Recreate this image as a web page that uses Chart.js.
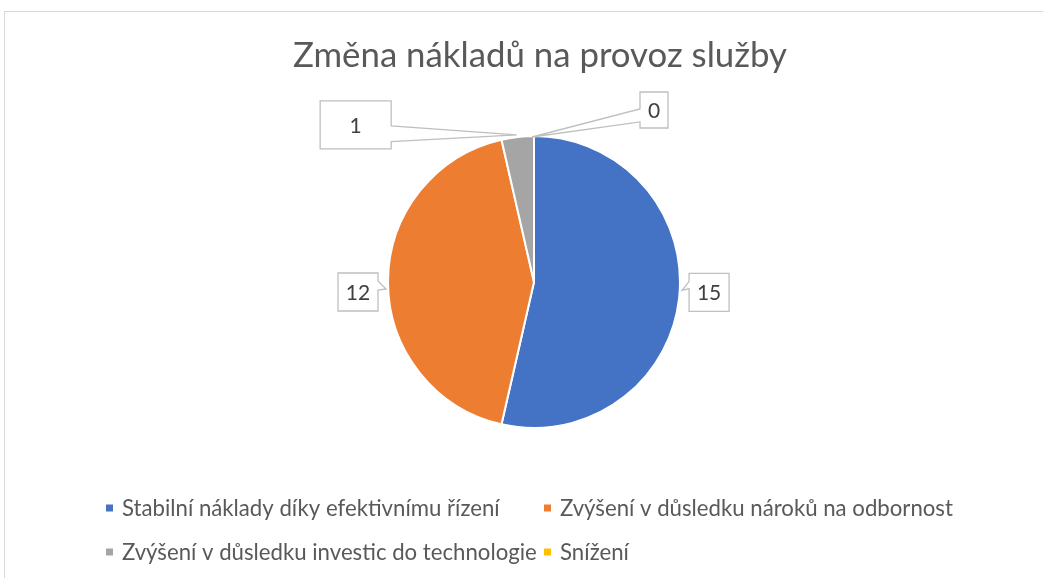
<!DOCTYPE html>
<html lang="cs">
<head>
<meta charset="utf-8">
<title>Změna nákladů na provoz služby</title>
<script src="https://cdn.jsdelivr.net/npm/chart.js@4.4.1/dist/chart.umd.min.js"></script>
<style>
    html, body { margin: 0; padding: 0; background: #fff; overflow: hidden; }
    #wrap { position: relative; width: 1043px; height: 578px; overflow: hidden; }
    #frame {
        position: absolute; left: 4px; top: 11px;
        width: 1100px; height: 700px;
        border: 1px solid #d9d9d9; box-sizing: border-box;
    }
    #pie { position: absolute; left: 0; top: 0; }
</style>
</head>
<body>
<div id="wrap">
    <div id="frame"></div>
    <canvas id="pie" width="1043" height="578"></canvas>
</div>
<script>
// Data
const chartTitle = 'Změna nákladů na provoz služby';
const categories = [
    'Stabilní náklady díky efektivnímu řízení',
    'Zvýšení v důsledku nároků na odbornost',
    'Zvýšení v důsledku investic do technologie',
    'Snížení'
];
const counts = [15, 12, 1, 0];
const sliceColors = ['#4472C4', '#ED7D31', '#A5A5A5', '#FFC000'];

const FONT = 'Lato, "Open Sans", sans-serif';

// velikost písma podle šířky textu v referenci
function fitFont(ctx, text, targetWidth) {
    ctx.font = `100px ${FONT}`;
    return 100 * targetWidth / ctx.measureText(text).width;
}

const canvas = document.getElementById('pie');
const ctx0 = canvas.getContext('2d');
const titleSize = fitFont(ctx0, chartTitle, 494);
const legendSize = fitFont(ctx0, categories[0], 378);

// Titulek a legenda kreslené ručně (Excel rozvržení)
const decorPlugin = {
    id: 'decor',
    afterDraw(chart, args, opts) {
        const ctx = chart.ctx;
        ctx.save();
        ctx.fillStyle = '#595959';
        ctx.textAlign = 'center';
        ctx.textBaseline = 'alphabetic';
        ctx.font = `${titleSize}px ${FONT}`;
        ctx.fillText(chartTitle, opts.titleX, opts.titleY);

        ctx.textAlign = 'left';
        ctx.textBaseline = 'middle';
        ctx.font = `${legendSize}px ${FONT}`;
        categories.forEach((name, i) => {
            const col = i % 2, row = Math.floor(i / 2);
            const bx = opts.colX[col], by = opts.rowY[row];
            ctx.fillStyle = sliceColors[i];
            ctx.fillRect(bx, by - opts.box / 2, opts.box, opts.box);
            ctx.fillStyle = '#595959';
            ctx.fillText(name, bx + 16, by + 1);
        });
        ctx.restore();
    }
};

// Popisky hodnot jako bubliny s výběžkem
const calloutPlugin = {
    id: 'callouts',
    afterDatasetsDraw(chart, args, opts) {
        const ctx = chart.ctx;
        const meta = chart.getDatasetMeta(0);
        ctx.save();
        meta.data.forEach((arc, i) => {
            const lay = opts.layout[i];
            const p = arc.getProps(['x', 'y', 'startAngle', 'endAngle', 'outerRadius'], true);
            const mid = (p.startAngle + p.endAngle) / 2;
            const ax = p.x + Math.cos(mid) * p.outerRadius;
            const ay = p.y + Math.sin(mid) * p.outerRadius;
            const tx = ax + lay.tip[0], ty = ay + lay.tip[1];
            const cx = ax + lay.dx, cy = ay + lay.dy;
            const x0 = cx - lay.w / 2, x1 = cx + lay.w / 2;
            const y0 = cy - lay.h / 2, y1 = cy + lay.h / 2;
            const b1 = y0 + lay.base[0] * lay.h, b2 = y0 + lay.base[1] * lay.h;

            ctx.beginPath();
            ctx.moveTo(x0, y0);
            ctx.lineTo(x1, y0);
            if (lay.side === 'right') {
                ctx.lineTo(x1, b1);
                ctx.lineTo(tx, ty);
                ctx.lineTo(x1, b2);
            }
            ctx.lineTo(x1, y1);
            ctx.lineTo(x0, y1);
            if (lay.side === 'left') {
                ctx.lineTo(x0, b2);
                ctx.lineTo(tx, ty);
                ctx.lineTo(x0, b1);
            }
            ctx.closePath();
            ctx.fillStyle = '#ffffff';
            ctx.fill();
            ctx.strokeStyle = '#bfbfbf';
            ctx.lineWidth = 1.3;
            ctx.stroke();

            ctx.fillStyle = '#404040';
            ctx.font = `21px ${FONT}`;
            ctx.textAlign = 'center';
            ctx.textBaseline = 'middle';
            ctx.fillText(String(counts[i]), cx, cy + 1);
        });
        ctx.restore();
    }
};

new Chart(canvas, {
    type: 'pie',
    data: {
        labels: categories,
        datasets: [{
            data: counts,
            backgroundColor: sliceColors,
            borderColor: '#ffffff',
            borderWidth: 2,
            hoverOffset: 0,
            radius: 146
        }]
    },
    options: {
        responsive: false,
        animation: false,
        events: [],
        layout: { padding: { top: 130, bottom: 144, left: 300, right: 275 } },
        plugins: {
            legend: { display: false },
            title: { display: false },
            tooltip: { enabled: false },
            decor: {
                titleX: 540, titleY: 67,
                colX: [106, 544], rowY: [508, 552], box: 7
            },
            callouts: {
                layout: [
                    { dx: 30, dy: -6, w: 40, h: 38, side: 'left', tip: [3, -8], base: [0.21, 0.4] },
                    { dx: -30, dy: 10, w: 40, h: 38, side: 'right', tip: [-2, 7], base: [0.21, 0.45] },
                    { dx: -162, dy: -12, w: 71, h: 48, side: 'right', tip: [-1, -2], base: [0.52, 0.85] },
                    { dx: 120, dy: -26, w: 28, h: 36, side: 'left', tip: [-2, 1], base: [0.47, 0.83] }
                ]
            }
        }
    },
    plugins: [calloutPlugin, decorPlugin]
});
</script>
</body>
</html>
